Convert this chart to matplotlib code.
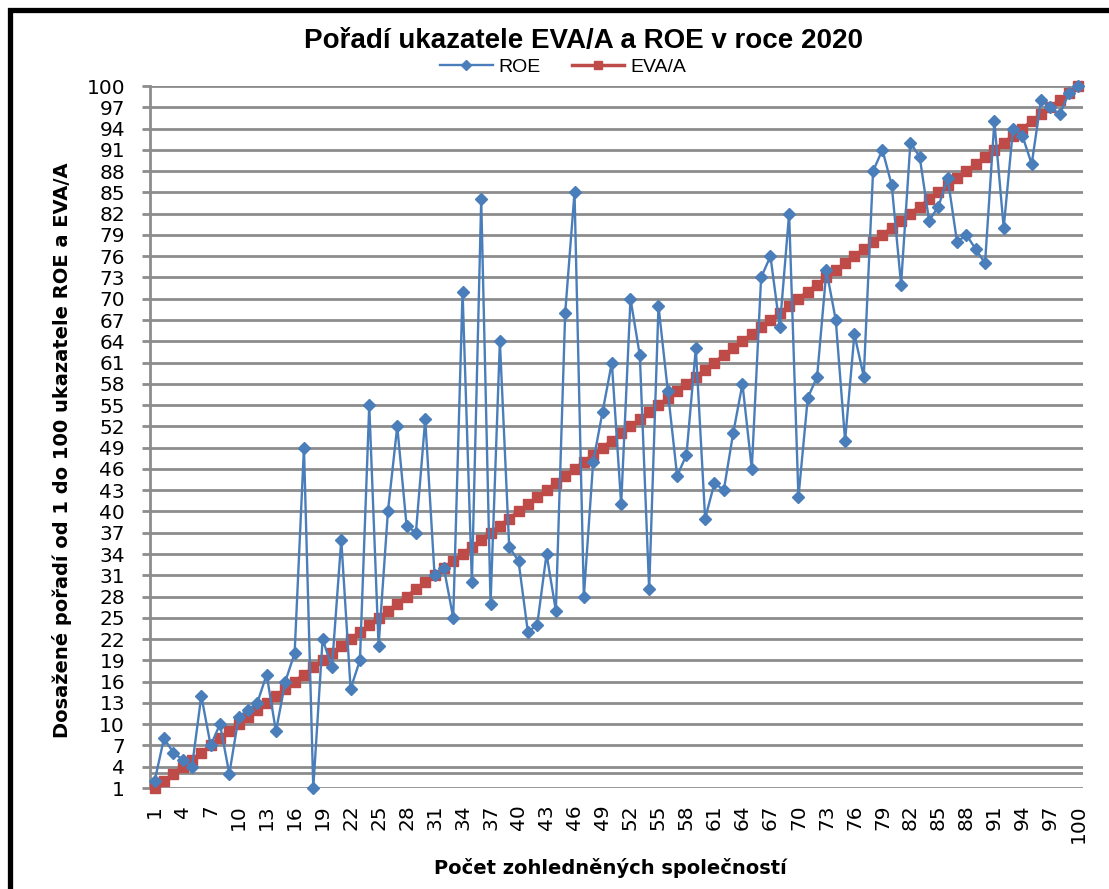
import matplotlib
matplotlib.use('Agg')
import matplotlib.pyplot as plt
from matplotlib.patches import Rectangle
from matplotlib.lines import Line2D
import numpy as np

# companies 1..100, ranks
companies = list(range(1, 101))
roe = [2, 8, 6, 5, 4, 14, 7, 10, 3, 11,
       12, 13, 17, 9, 16, 20, 49, 1, 22, 18,
       36, 15, 19, 55, 21, 40, 52, 38, 37, 53,
       31, 32, 25, 71, 30, 84, 27, 64, 35, 33,
       23, 24, 34, 26, 68, 85, 28, 47, 54, 61,
       41, 70, 62, 29, 69, 57, 45, 48, 63, 39,
       44, 43, 51, 58, 46, 73, 76, 66, 82, 42,
       56, 59, 74, 67, 50, 65, 59, 88, 91, 86,
       72, 92, 90, 81, 83, 87, 78, 79, 77, 75,
       95, 80, 94, 93, 89, 98, 97, 96, 99, 100]
eva_a = list(range(1, 101))
tick_vals = list(range(1, 101, 3))

title = 'Pořadí ukazatele EVA/A a ROE v roce 2020'
xlabel = 'Počet zohledněných společností'
ylabel = 'Dosažené pořadí od 1 do 100 ukazatele ROE a EVA/A'

blue = '#4a7ebb'
red = '#be4b48'
grid_col = '#8c8c8c'
narrow = ['Liberation Sans Narrow', 'Liberation Sans', 'DejaVu Sans']

W, H = 1109, 889
fig = plt.figure(figsize=(W / 100, H / 100), dpi=100)
ax = fig.add_axes([150 / W, (H - 788) / H, 933 / W, 702 / H])

ax.plot(companies, eva_a, color=red, lw=2.5, marker='s', ms=6.8,
        mec=red, mfc=red, clip_on=False, zorder=3, label='EVA/A')
ax.plot(companies, roe, color=blue, lw=1.7, marker='D', ms=6.0,
        mec=blue, mfc=blue, clip_on=False, zorder=4, label='ROE')

ax.set_xlim(0.5, 100.5)
ax.set_ylim(1, 100)
ax.set_yticks(tick_vals)
ax.set_xticks(tick_vals)
ax.yaxis.grid(True, color=grid_col, lw=2)
ax.axhline(3.1, color=grid_col, lw=2, zorder=1)
ax.set_axisbelow(True)
for s in ['top', 'right', 'bottom']:
    ax.spines[s].set_visible(False)
ax.spines['left'].set_color(grid_col)
ax.spines['left'].set_linewidth(2)
ax.tick_params(axis='y', length=6, width=2, color=grid_col, pad=12, labelsize=14.5)
ax.tick_params(axis='x', length=0, pad=12, labelsize=14.5, labelrotation=90)

fig.text(583 / W, 1 - 41 / H, title, ha='center', va='center',
         fontsize=20, fontweight='bold', family=narrow)
fig.text(62 / W, 1 - 450 / H, ylabel, ha='center', va='center', rotation=90,
         fontsize=14, fontweight='bold')
fig.text(610 / W, 1 - 868 / H, xlabel, ha='center', va='center',
         fontsize=14, fontweight='bold')

handles = [Line2D([], [], color=blue, lw=1.7, marker='D', ms=5.5),
           Line2D([], [], color=red, lw=2.5, marker='s', ms=6)]
fig.legend(handles, ['ROE', 'EVA/A'], loc='center', bbox_to_anchor=(563 / W, 1 - 67 / H),
           ncol=2, frameon=False, prop={'family': narrow, 'size': 14},
           handlelength=2.7, columnspacing=1.6, handletextpad=0.3, borderpad=0)

fig.add_artist(Rectangle((9.5 / W, -0.1), 2, 1.1 - 10.5 / H, transform=fig.transFigure,
                         fill=False, ec='black', lw=3.8))

fig.savefig('out.png', dpi=100)
